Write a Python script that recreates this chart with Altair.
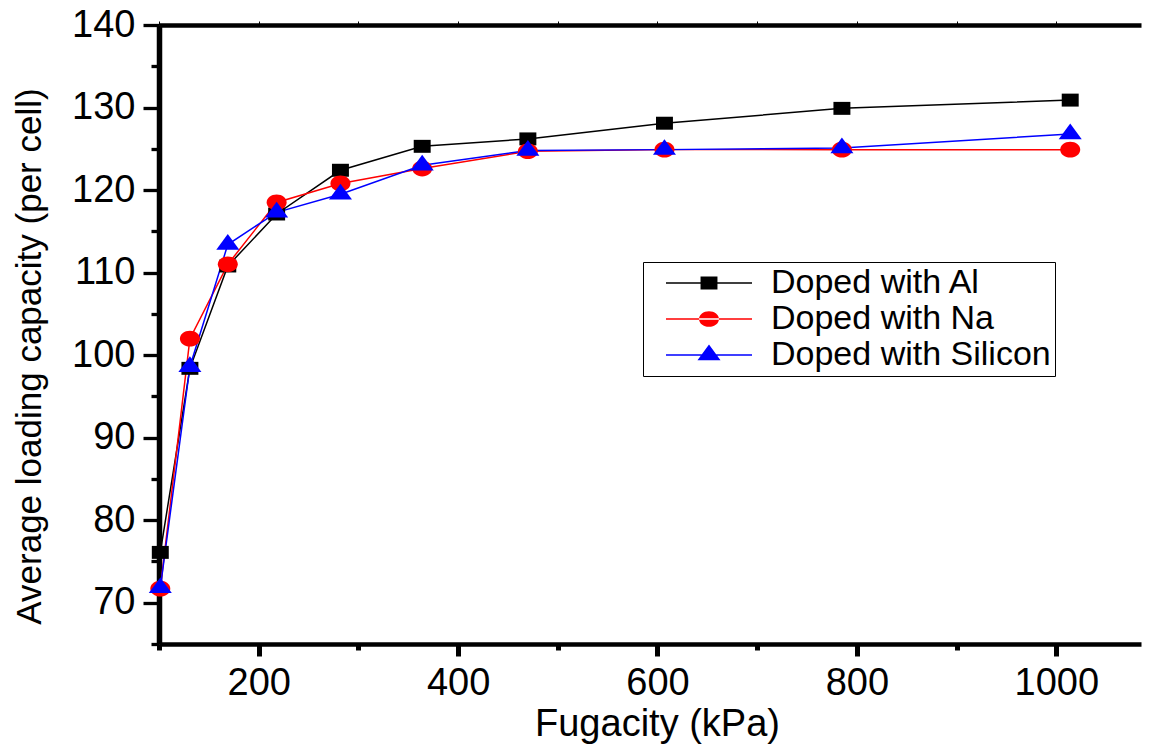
import altair as alt
import pandas as pd

# ---- data ----
fugacity = [101.3, 131, 169, 218, 282, 364, 470, 607, 785, 1014]
doped_al = [76.1, 98.4, 110.8, 117.1, 122.4, 125.3, 126.2, 128.1, 129.9, 130.9]
doped_na = [71.7, 102.0, 111.0, 118.5, 120.8, 122.6, 124.7, 124.9, 124.9, 124.9]
doped_si = [71.8, 98.6, 113.4, 117.3, 119.5, 123.0, 124.8, 124.9, 125.1, 126.8]

series = ["Doped with Al", "Doped with Na", "Doped with Silicon"]
colors = ["#000000", "#ff0000", "#0000ff"]

x_ticks = [100, 200, 300, 400, 500, 600, 700, 800, 900, 1000]
y_ticks = [65, 70, 75, 80, 85, 90, 95, 100, 105, 110, 115, 120, 125, 130, 135, 140]

# marker shapes (custom paths, unit box [-1,1])
marker_paths = [
    "M-1.06,-0.81H1.06V0.81H-1.06Z",
    "M-1.25,0A1.25,0.98 0 1,0 1.25,0A1.25,0.98 0 1,0 -1.25,0Z",
    "M0,-1.31L1.44,0.65L-1.44,0.65Z",
]
# legend symbols: a short line with the marker in its middle
legend_paths = [
    "M0.22,-0.085H9.78V0.085H0.22Z M4.06,-0.72H5.94V0.72H4.06Z",
    "M0.22,-0.085H9.78V0.085H0.22Z M3.89,0A1.11,0.87 0 1,0 6.11,0A1.11,0.87 0 1,0 3.89,0Z",
    "M0.22,-0.085H9.78V0.085H0.22Z M5,-1.16L6.28,0.58L3.72,0.58Z",
]

rows = []
for name, vals in zip(series, [doped_al, doped_na, doped_si]):
    for f, v in zip(fugacity, vals):
        rows.append({"Fugacity": f, "Loading": v, "Series": name})
df = pd.DataFrame(rows)

FONT = "Liberation Sans"

x_scale = alt.Scale(domain=[100, 1085], nice=False, zero=False)
y_scale = alt.Scale(domain=[65, 140], nice=False, zero=False)

y_axis = alt.Axis(
    values=y_ticks,
    labelExpr="datum.value % 10 === 0 ? datum.label : ''",
    tickSize={"condition": {"test": "datum.value % 10 === 0", "value": 16}, "value": 8},
    tickWidth=3.3,
    domainWidth=5.5,
    domainColor="black",
    tickColor="black",
    grid=False,
    labelFontSize=38,
    labelPadding=8,
    title="Average loading capacity (per cell)",
    titleFontSize=35,
    titleAngle=-90,
    titleBaseline="middle",
    titleAlign="center",
    titleX=-130,
    titleY=331,
)

x_axis_bottom = alt.Axis(
    values=x_ticks,
    format="d",
    labelExpr="datum.value % 200 === 0 ? datum.label : ''",
    tickSize={"condition": {"test": "datum.value % 200 === 0", "value": 12}, "value": 6},
    tickWidth=5,
    domainWidth=4.3,
    domainColor="black",
    tickColor="black",
    grid=False,
    labelFontSize=38,
    labelPadding=8,
    labelFlush=False,
    title="Fugacity (kPa)",
    titleFontSize=38,
    titleBaseline="alphabetic",
    titleX=498,
    titleY=91,
)

x_axis_top = alt.Axis(
    orient="top",
    values=x_ticks,
    labels=False,
    tickSize=4,
    tickWidth=1,
    domainWidth=4.5,
    domainColor="black",
    tickColor="black",
    grid=False,
    title=None,
)

lines = alt.Chart(df).mark_line(strokeWidth=1.5).encode(
    x=alt.X("Fugacity:Q", scale=x_scale, axis=x_axis_bottom),
    y=alt.Y("Loading:Q", scale=y_scale, axis=y_axis),
    color=alt.Color("Series:N", scale=alt.Scale(domain=series, range=colors), legend=None),
    detail="Series:N",
)

points = alt.Chart(df).mark_point(filled=True, opacity=1, size=256, strokeWidth=0).encode(
    x=alt.X("Fugacity:Q", scale=x_scale, axis=x_axis_top),
    y=alt.Y("Loading:Q", scale=y_scale, axis=y_axis),
    color=alt.Color("Series:N", scale=alt.Scale(domain=series, range=colors), legend=None),
    shape=alt.Shape("Series:N", scale=alt.Scale(domain=series, range=marker_paths), legend=None),
)

legend = alt.Legend(
    title=None,
    orient="none",
    legendX=484,
    legendY=237,
    labelFont=FONT,
    labelFontSize=34,
    labelColor="black",
    labelLimit=800,
    labelOffset=90,
    symbolSize=324,
    symbolStrokeWidth=0,
    symbolOpacity=1,
    padding=4,
    rowPadding=2,
    strokeColor="black",
    fillColor="white",
    cornerRadius=0,
)

legend_layer = alt.Chart(df).mark_point(filled=True, opacity=1, size=324, clip=True).encode(
    x=alt.value(-3000),
    y=alt.value(-3000),
    color=alt.Color("Series:N", scale=alt.Scale(domain=series, range=colors), legend=legend),
    shape=alt.Shape("Series:N", scale=alt.Scale(domain=series, range=legend_paths), legend=legend),
)

chart = (
    alt.layer(lines, points, legend_layer)
    .resolve_scale(color="independent", shape="independent")
    .resolve_axis(x="independent")
    .properties(
        width=982,
        height=619,
        padding={"left": 151, "top": 17, "right": 1, "bottom": 100},
        autosize=alt.AutoSizeParams(type="none"),
        background="white",
    )
    .configure_view(stroke=None)
    .configure_axis(
        labelFont=FONT,
        titleFont=FONT,
        labelColor="black",
        titleColor="black",
        titleFontWeight="normal",
    )
)

chart.save("out.html", embed_options={"renderer": "svg", "actions": False})
